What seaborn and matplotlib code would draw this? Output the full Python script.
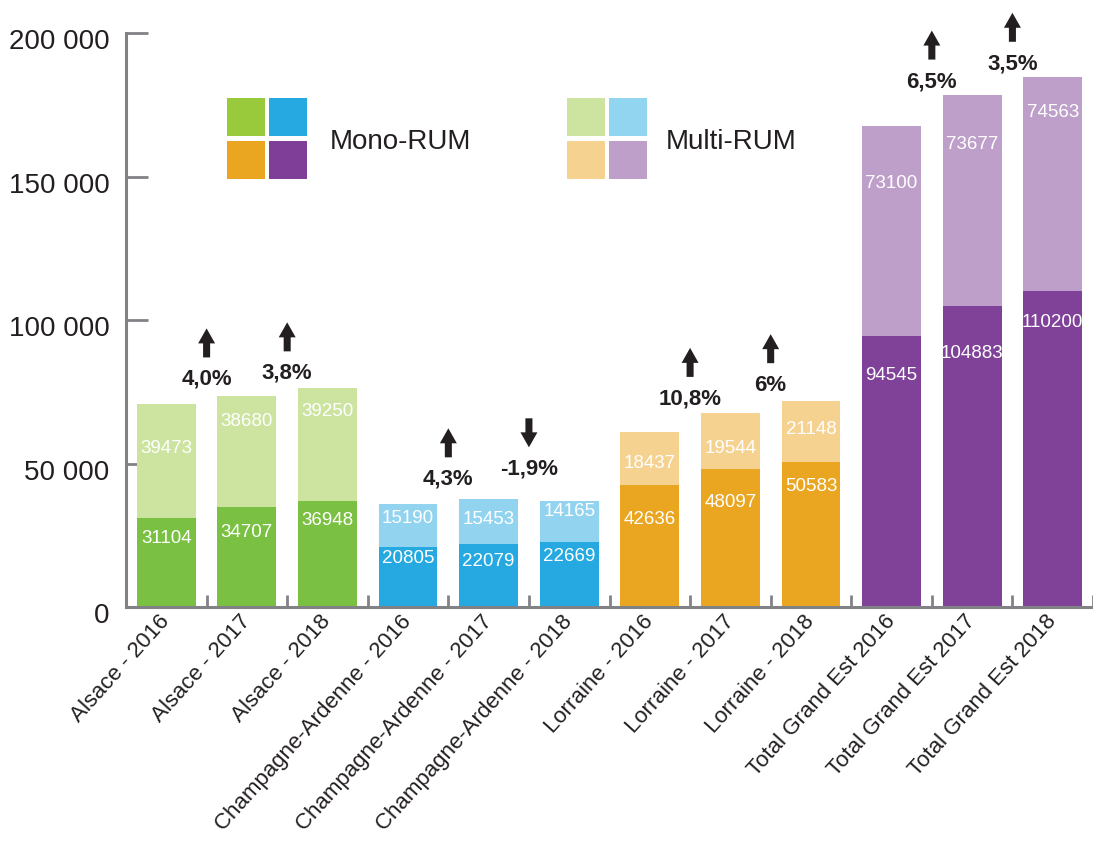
import matplotlib
matplotlib.use("Agg")
import matplotlib.pyplot as plt
from matplotlib.patches import Rectangle
from matplotlib.transforms import ScaledTranslation
from matplotlib.ticker import FuncFormatter, FixedLocator
import seaborn as sns
import pandas as pd

# ---- data ----
categories = [
    "Alsace - 2016", "Alsace - 2017", "Alsace - 2018",
    "Champagne-Ardenne - 2016", "Champagne-Ardenne - 2017", "Champagne-Ardenne - 2018",
    "Lorraine - 2016", "Lorraine - 2017", "Lorraine - 2018",
    "Total Grand Est 2016", "Total Grand Est 2017", "Total Grand Est 2018",
]
mono_rum = [31104, 34707, 36948, 20805, 22079, 22669, 42636, 48097, 50583, 94545, 104883, 110200]
multi_rum = [39473, 38680, 39250, 15190, 15453, 14165, 18437, 19544, 21148, 73100, 73677, 74563]

change_labels = ["4,0%", "3,8%", "4,3%", "-1,9%", "10,8%", "6%", "6,5%", "3,5%"]
change_after = [0, 1, 3, 4, 6, 7, 9, 10]          # change between bar i and bar i+1
change_up = [True, True, True, False, True, True, True, True]

# ---- styling ----
dark_cols = ["#7AC143"] * 3 + ["#25A9E0"] * 3 + ["#EAA621"] * 3 + ["#7F4298"] * 3
light_cols = ["#CCE4A0"] * 3 + ["#92D4F0"] * 3 + ["#F5D290"] * 3 + ["#BE9FCA"] * 3
legend_dark = ["#99CA3C", "#25A9E0", "#EAA621", "#7F3F98"]
legend_light = ["#CCE4A0", "#92D5F0", "#F5D290", "#BE9FCA"]
mono_drop = [21, 25, 20, 11, 18, 15, 35, 34, 25, 40, 47, 32]     # label offset below segment top (px)
multi_drop = [44, 25, 23, 15, 20, 10, 32, 36, 28, 58, 50, 36]
change_lift = [17, 15, 20, 30, 14, 16, 13, 13]                  # percent label above taller bar (px)
TXT = "#231F20"
AX = "#808285"

sns.set_theme(style="white")
plt.rcParams["font.family"] = ["Liberation Sans", "DejaVu Sans"]

df = pd.DataFrame({
    "cat": categories,
    "mono": mono_rum,
    "multi": multi_rum,
})
df["total"] = df["mono"] + df["multi"]

fig = plt.figure(figsize=(10.93, 8.41), dpi=100)
ax = fig.add_axes([0.1153, 0.2782, 0.8847, 0.6825])

sns.barplot(data=df, x="cat", y="total", hue="cat", palette=light_cols,
            width=0.73, legend=False, ax=ax, saturation=1)
sns.barplot(data=df, x="cat", y="mono", hue="cat", palette=dark_cols,
            width=0.73, legend=False, ax=ax, saturation=1)
for p in ax.patches:
    p.set_edgecolor("none")

ax.set_xlim(-0.5, len(categories) - 0.5)
ax.set_ylim(0, 200000)
ax.set_xlabel("")
ax.set_ylabel("")

# axes
for s in ["top", "right"]:
    ax.spines[s].set_visible(False)
for s in ["left", "bottom"]:
    ax.spines[s].set_color(AX)
    ax.spines[s].set_linewidth(2.2)

ax.yaxis.set_major_locator(FixedLocator([0, 50000, 100000, 150000, 200000]))
ax.yaxis.set_major_formatter(FuncFormatter(lambda v, _: f"{int(v):,}".replace(",", " ")))
ax.tick_params(axis="y", direction="in", length=16, width=2, color=AX,
               labelsize=20, labelcolor=TXT, pad=12, left=True)
shift = ScaledTranslation(0, -6 / 100, fig.dpi_scale_trans)
for lab in ax.get_yticklabels():
    lab.set_transform(lab.get_transform() + shift)

ax.set_xticks(range(len(categories)))
ax.set_xticklabels(categories)
ax.set_xticks([i - 0.5 for i in range(len(categories) + 1)], minor=True)
ax.tick_params(axis="x", which="major", length=0, labelsize=16, labelcolor=TXT, pad=8)
ax.tick_params(axis="x", which="minor", direction="in", length=9, width=2, color=AX, bottom=True)
for lab in ax.get_xticklabels():
    lab.set_rotation(48)
    lab.set_ha("right")
    lab.set_va("center")
    lab.set_rotation_mode("anchor")


def px_offset(dy):
    return ax.transData + ScaledTranslation(0, dy / 100, fig.dpi_scale_trans)


# value labels inside bars
for i in range(len(categories)):
    ax.text(i, mono_rum[i], str(mono_rum[i]), transform=px_offset(-mono_drop[i]),
            ha="center", va="center", color="white", fontsize=13.5)
    tot = mono_rum[i] + multi_rum[i]
    ax.text(i, tot, str(multi_rum[i]), transform=px_offset(-multi_drop[i]),
            ha="center", va="center", color="white", fontsize=13.5)

# year-over-year change markers
totals = df["total"].tolist()
for lab, i, up, lift in zip(change_labels, change_after, change_up, change_lift):
    x = i + 0.5
    base = max(totals[i], totals[i + 1])
    ax.text(x, base, lab, transform=px_offset(lift), ha="center", va="center",
            fontsize=16, fontweight="bold", color=TXT, clip_on=False)
    if up:
        tip, tail = lift + 51, lift + 22
    else:
        tip, tail = lift + 22, lift + 51
    ax.annotate("", xy=(x, base), xycoords=px_offset(tip),
                xytext=(x, base), textcoords=px_offset(tail),
                annotation_clip=False,
                arrowprops=dict(arrowstyle="simple,head_length=0.83,head_width=0.94,tail_width=0.39",
                                fc=TXT, ec="none", mutation_scale=13, shrinkA=0, shrinkB=0))

# legend swatches
W, H = 1093, 841


def swatch(x, y, c):
    fig.patches.append(Rectangle((x / W, 1 - (y + 38) / H), 38 / W, 38 / H,
                                 transform=fig.transFigure, facecolor=c, edgecolor="none"))


for (x0, cols, label, tx) in [(227, legend_dark, "Mono-RUM", 330), (567, legend_light, "Multi-RUM", 666)]:
    swatch(x0, 98, cols[0])
    swatch(x0 + 42, 98, cols[1])
    swatch(x0, 141, cols[2])
    swatch(x0 + 42, 141, cols[3])
    fig.text(tx / W, 1 - 142 / H, label, ha="left", va="center", fontsize=20, color=TXT)

fig.savefig("out.png", dpi=100)
